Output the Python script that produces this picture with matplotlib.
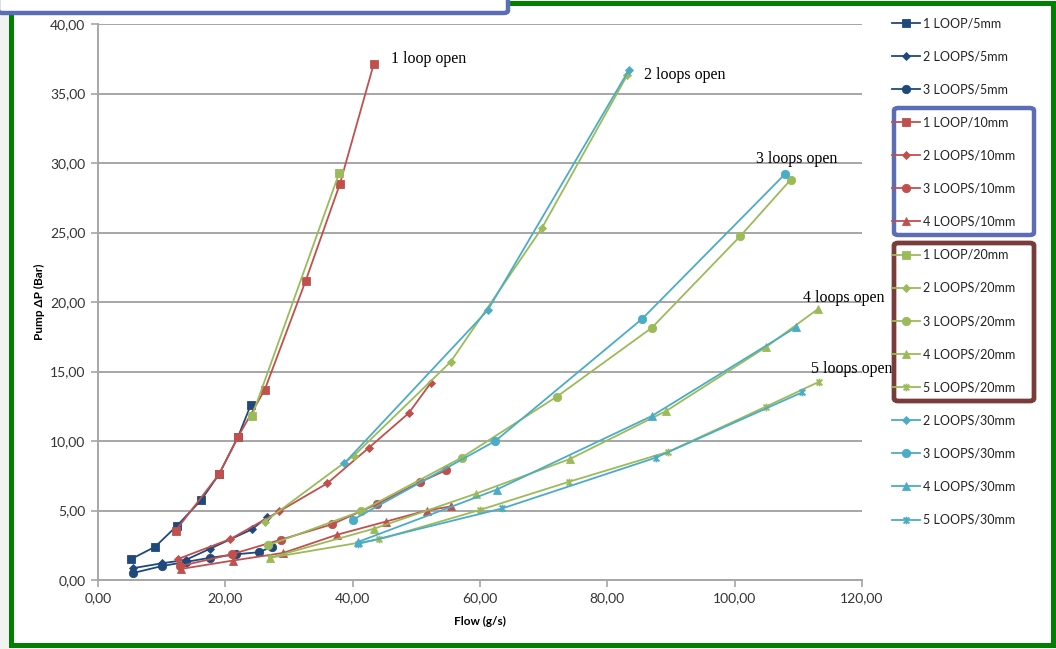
import numpy as np
import matplotlib
matplotlib.use("Agg")
import matplotlib.pyplot as plt
from matplotlib.path import Path
from matplotlib.patches import Rectangle, FancyBboxPatch
from matplotlib.ticker import FuncFormatter, MultipleLocator

plt.rcParams['font.family'] = ['Lato', 'DejaVu Sans']

# flow (g/s) and pump dP (bar) for each loop / pipe size combination
loop1_5mm_x = [5.2, 9.0, 12.4, 16.2, 19.0, 22.0, 24.0]
loop1_5mm_y = [1.5, 2.4, 3.9, 5.75, 7.6, 10.3, 12.6]
loop2_5mm_x = [5.5, 10.0, 13.8, 17.6, 24.2, 26.5]
loop2_5mm_y = [0.85, 1.2, 1.45, 2.25, 3.65, 4.5]
loop3_5mm_x = [5.5, 10.0, 13.8, 17.6, 21.7, 25.3, 27.3]
loop3_5mm_y = [0.5, 1.0, 1.3, 1.6, 1.85, 2.0, 2.4]

loop1_10mm_x = [12.2, 19.0, 22.0, 26.2, 32.6, 38.0, 43.3]
loop1_10mm_y = [3.55, 7.6, 10.3, 13.7, 21.5, 28.5, 37.1]
loop2_10mm_x = [12.5, 20.8, 28.5, 36.0, 42.5, 48.8, 52.3]
loop2_10mm_y = [1.5, 2.95, 4.95, 6.95, 9.5, 12.0, 14.2]
loop3_10mm_x = [12.9, 21.0, 28.7, 36.7, 43.8, 50.6, 54.7]
loop3_10mm_y = [1.0, 1.85, 2.9, 4.0, 5.45, 7.05, 7.9]
loop4_10mm_x = [13.1, 21.2, 29.1, 37.5, 45.2, 51.6, 55.5]
loop4_10mm_y = [0.8, 1.4, 1.95, 3.25, 4.2, 5.0, 5.3]

loop1_20mm_x = [24.2, 37.9]
loop1_20mm_y = [11.8, 29.3]
loop2_20mm_x = [26.2, 40.2, 55.4, 69.7, 83.1]
loop2_20mm_y = [4.2, 8.95, 15.7, 25.3, 36.3]
loop3_20mm_x = [26.75, 41.3, 57.1, 72.1, 87.0, 100.9, 108.8]
loop3_20mm_y = [2.5, 4.95, 8.8, 13.2, 18.15, 24.75, 28.8]
loop4_20mm_x = [27.0, 43.4, 59.3, 74.1, 89.2, 104.9, 113.1]
loop4_20mm_y = [1.6, 3.7, 6.2, 8.7, 12.15, 16.75, 19.5]
loop5_20mm_x = [27.0, 44.2, 60.0, 74.0, 89.6, 104.9, 113.3]
loop5_20mm_y = [1.6, 2.93, 5.04, 7.07, 9.23, 12.47, 14.27]

loop2_30mm_x = [38.7, 61.2, 83.4]
loop2_30mm_y = [8.4, 19.4, 36.7]
loop3_30mm_x = [40.1, 62.4, 85.5, 107.9]
loop3_30mm_y = [4.35, 10.0, 18.8, 29.2]
loop4_30mm_x = [40.9, 62.6, 87.0, 109.7]
loop4_30mm_y = [2.75, 6.5, 11.8, 18.2]
loop5_30mm_x = [40.9, 63.5, 87.6, 110.6]
loop5_30mm_y = [2.6, 5.15, 8.8, 13.5]

open_labels = ["1 loop open", "2 loops open", "3 loops open", "4 loops open", "5 loops open"]
open_x = [46.0, 85.8, 103.3, 110.7, 112.0]
open_y = [37.5, 36.3, 30.3, 20.3, 15.2]

navy = "#1f497d"
red = "#c0504d"
green = "#9bbb59"
aqua = "#4bacc6"

# excel style "star": an X with a vertical bar through it
star = Path([(-1, -1), (1, 1), (-1, 1), (1, -1), (0, -1.3), (0, 1.3)],
            [Path.MOVETO, Path.LINETO, Path.MOVETO, Path.LINETO, Path.MOVETO, Path.LINETO])

series = [
    ("1 LOOP/5mm", loop1_5mm_x, loop1_5mm_y, navy, "s", 6),
    ("2 LOOPS/5mm", loop2_5mm_x, loop2_5mm_y, navy, "D", 4.2),
    ("3 LOOPS/5mm", loop3_5mm_x, loop3_5mm_y, navy, "o", 6),
    ("1 LOOP/10mm", loop1_10mm_x, loop1_10mm_y, red, "s", 6),
    ("2 LOOPS/10mm", loop2_10mm_x, loop2_10mm_y, red, "D", 4.2),
    ("3 LOOPS/10mm", loop3_10mm_x, loop3_10mm_y, red, "o", 6),
    ("4 LOOPS/10mm", loop4_10mm_x, loop4_10mm_y, red, "^", 6),
    ("1 LOOP/20mm", loop1_20mm_x, loop1_20mm_y, green, "s", 6),
    ("2 LOOPS/20mm", loop2_20mm_x, loop2_20mm_y, green, "D", 4.2),
    ("3 LOOPS/20mm", loop3_20mm_x, loop3_20mm_y, green, "o", 6),
    ("4 LOOPS/20mm", loop4_20mm_x, loop4_20mm_y, green, "^", 6),
    ("5 LOOPS/20mm", loop5_20mm_x, loop5_20mm_y, green, star, 5.5),
    ("2 LOOPS/30mm", loop2_30mm_x, loop2_30mm_y, aqua, "D", 4.2),
    ("3 LOOPS/30mm", loop3_30mm_x, loop3_30mm_y, aqua, "o", 6),
    ("4 LOOPS/30mm", loop4_30mm_x, loop4_30mm_y, aqua, "^", 6),
    ("5 LOOPS/30mm", loop5_30mm_x, loop5_30mm_y, aqua, star, 5.5),
]

W, H = 1056, 649
fig = plt.figure(figsize=(W / 100, H / 100), dpi=100)
fig.patch.set_facecolor("white")

def px_box(x0, y0, x1, y1):
    # pixel box (from top-left) -> figure fraction
    return x0 / W, 1 - y1 / H, (x1 - x0) / W, (y1 - y0) / H

ax = fig.add_axes(px_box(98, 24, 862, 580))
grid_c = "#a6a6a6"

lines = []
for name, xs, ys, c, m, ms in series:
    mew = 1.3 if m is star else 0.6
    ln, = ax.plot(xs, ys, color=c, lw=1.3, marker=m, ms=ms, mfc=c, mec=c, mew=mew,
                  label=name, clip_on=False)
    lines.append(ln)

ax.set_xlim(0, 120)
ax.set_ylim(0, 40)
ax.xaxis.set_major_locator(MultipleLocator(20))
ax.yaxis.set_major_locator(MultipleLocator(5))
fmt = FuncFormatter(lambda v, p: f"{v:.2f}".replace(".", ","))
ax.xaxis.set_major_formatter(fmt)
ax.yaxis.set_major_formatter(fmt)
ax.grid(axis="y", color=grid_c, lw=1.4)
ax.set_axisbelow(True)
for s in ["top", "right"]:
    ax.spines[s].set_visible(False)
for s in ["left", "bottom"]:
    ax.spines[s].set_color(grid_c)
    ax.spines[s].set_linewidth(1.4)
ax.tick_params(colors=grid_c, length=5, width=1.2, labelsize=10, labelcolor="#333333", pad=4)
ax.set_xlabel("Flow (g/s)", fontsize=8.5, fontweight="bold", labelpad=8)
ax.set_ylabel("Pump \u0394P (Bar)", fontsize=8.5, fontweight="bold", labelpad=4)

for t, x, y in zip(open_labels, open_x, open_y):
    ax.text(x, y, t, family=["Liberation Serif", "DejaVu Serif"], fontsize=11.5,
            ha="left", va="center", clip_on=False)

# left strip outside the green frame
fig.add_artist(Rectangle((0, 0), 10 / W, 1, transform=fig.transFigure,
                         facecolor="#f2f2f2", edgecolor="none", zorder=-1))
# green frame round the chart
fig.add_artist(Rectangle((11 / W, 1 - 645 / H), (1053 - 11) / W, (645 - 3) / H,
                         transform=fig.transFigure, fill=False, edgecolor="#008000",
                         lw=3.6, zorder=4))
# blue box at the top left
fig.add_artist(FancyBboxPatch((-2 / W, 1 - 13 / H), 510 / W, 20 / H,
                              boxstyle="round,pad=0,rounding_size=0.004",
                              transform=fig.transFigure, facecolor="white",
                              edgecolor="#5b6db5", lw=3.2, zorder=5))

# boxes round the 10mm and 20mm legend groups
x, y, w, h = px_box(894, 108, 1034, 235)
fig.add_artist(FancyBboxPatch((x, y), w, h, boxstyle="round,pad=0,rounding_size=0.004",
                              transform=fig.transFigure, facecolor="white",
                              edgecolor="#5b6db5", lw=3.2, zorder=3))
x, y, w, h = px_box(894, 243, 1034, 401)
fig.add_artist(FancyBboxPatch((x, y), w, h, boxstyle="round,pad=0,rounding_size=0.004",
                              transform=fig.transFigure, facecolor="white",
                              edgecolor="#7a3b3b", lw=3.4, zorder=3))

leg = fig.legend(handles=lines, loc="upper left", bbox_to_anchor=(892 / W, 1 - 17 / H),
                 frameon=False, fontsize=9, labelspacing=1.69, handlelength=2.2,
                 handletextpad=0.25, borderaxespad=0, borderpad=0)
leg.set_zorder(6)
for t in leg.get_texts():
    t.set_color("#222222")

fig.savefig("out.png", dpi=100)
